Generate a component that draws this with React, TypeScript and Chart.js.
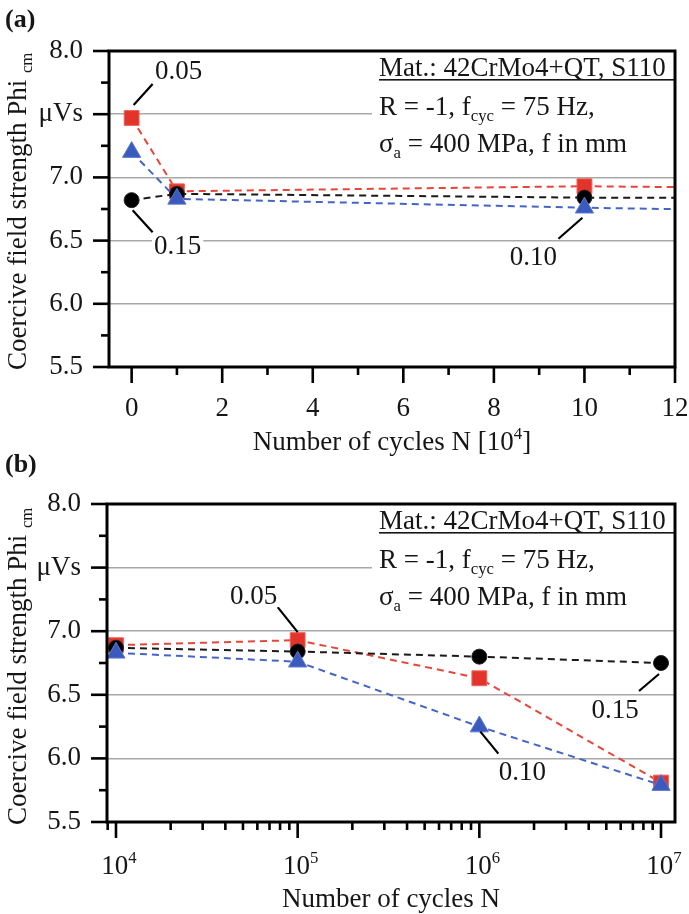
import React, { useEffect, useRef } from 'react';
import { Chart, registerables } from 'chart.js';

Chart.register(...registerables);

// ---------------- data ----------------
const cyclesN = [0, 1e4, 1e5, 1e6, 1e7];
const phi005 = [7.47, 6.89, 6.93, 6.63, 5.81];
const phi010 = [7.2, 6.83, 6.76, 6.25, 5.79];
const phi015 = [6.82, 6.87, 6.84, 6.8, 6.75];
const seriesNames = ['0.05', '0.15', '0.10'];
const yTicks = [5.5, 6.0, 6.5, 7.0, 7.5, 8.0];
const xTicksA = [0, 2, 4, 6, 8, 10, 12];
const xDecadesB = [4, 5, 6, 7];
const unitLabel = 'μVs';
const yTitle = 'Coercive field strength Phi';
const yTitleSub = 'cm';
const xTitleA = 'Number of cycles N [10';
const xTitleAExp = '4';
const xTitleB = 'Number of cycles N';
const annMaterial = 'Mat.: 42CrMo4+QT, S110';

// ---------------- style ----------------
const FONT = '"Liberation Serif", "Times New Roman", Times, serif';
const TEXT = '#161616';
const GRID = '#a8a8a8';
const FS = 27;

type Seg = { t: string; k?: 'sub' | 'sup' };

function fontFor(size: number, k?: string, bold = false) {
  const s = k ? size * 0.62 : size;
  return `${bold ? 'bold ' : ''}${s}px ${FONT}`;
}
function measureRich(ctx: CanvasRenderingContext2D, segs: Seg[], size: number) {
  let w = 0;
  for (const s of segs) {
    ctx.font = fontFor(size, s.k);
    w += ctx.measureText(s.t).width;
  }
  return w;
}
function drawRich(ctx: CanvasRenderingContext2D, segs: Seg[], x: number, y: number, size: number, align: 'left' | 'center' | 'right' = 'left') {
  const w = measureRich(ctx, segs, size);
  let cx = align === 'left' ? x : align === 'center' ? x - w / 2 : x - w;
  ctx.textAlign = 'left';
  ctx.textBaseline = 'alphabetic';
  for (const s of segs) {
    ctx.font = fontFor(size, s.k);
    const dy = s.k === 'sub' ? size * 0.24 : s.k === 'sup' ? -size * 0.4 : 0;
    ctx.fillText(s.t, cx, y + dy);
    cx += ctx.measureText(s.t).width;
  }
  return w;
}

type Label = { ds: number; idx: number; text: string; tx: number; ty: number; l: [number, number, number, number] };

interface Panel {
  key: 'a' | 'b';
  canvasH: number;
  areaTop: number;
  yAxisW: number;
  xAxisH: number;
  xMin: number;
  xMax: number;
  letterY: number;
  labels: Label[];
}

const panelA: Panel = {
  key: 'a',
  canvasH: 460,
  areaTop: 51,
  yAxisW: 109,
  xAxisH: 93,
  xMin: -0.5,
  xMax: 12,
  letterY: 27,
  labels: [
    { ds: 0, idx: 0, text: '0.05', tx: 47, ty: -46, l: [2, -13, 21, -34] },
    { ds: 1, idx: 0, text: '0.15', tx: 46, ty: 47, l: [1, 10, 21, 32] },
    { ds: 2, idx: 2, text: '0.10', tx: -51, ty: 50, l: [-2, 10, -26, 31] },
  ],
};

const panelB: Panel = {
  key: 'b',
  canvasH: 474,
  areaTop: 64,
  yAxisW: 107,
  xAxisH: 92,
  xMin: 8924,
  xMax: 1.194e7,
  letterY: 32,
  labels: [
    { ds: 0, idx: 1, text: '0.05', tx: -44, ty: -43, l: [0, -8, -20, -33] },
    { ds: 1, idx: 3, text: '0.15', tx: -46, ty: 48, l: [-2, 11, -22, 28] },
    { ds: 2, idx: 2, text: '0.10', tx: 43, ty: 46, l: [1, 5, 19, 27] },
  ],
};

function buildConfig(p: Panel): any {
  const isLog = p.key === 'b';
  const pts = (vals: number[]) =>
    cyclesN
      .map((n, i) => ({ x: isLog ? n : n / 1e4, y: vals[i] }))
      .filter((pt) => !isLog || pt.x > 0);

  const common = { borderWidth: 2, borderDash: [7, 5], tension: 0, pointBorderWidth: 1, showLine: true };
  const datasets = [
    {
      ...common,
      label: seriesNames[0],
      data: pts(phi005),
      borderColor: '#e8453a',
      pointBackgroundColor: '#e3342c',
      pointBorderColor: '#f0625a',
      pointStyle: 'rect',
      pointRadius: 10.5,
      order: 2,
    },
    {
      ...common,
      label: seriesNames[1],
      data: pts(phi015),
      borderColor: '#1a1a1a',
      pointBackgroundColor: '#000000',
      pointBorderColor: '#222222',
      pointStyle: 'circle',
      pointRadius: 7.5,
      order: 1,
    },
    {
      ...common,
      label: seriesNames[2],
      data: pts(phi010),
      borderColor: '#4565c6',
      pointBackgroundColor: '#3b5abd',
      pointBorderColor: '#5a76d0',
      pointStyle: 'triangle',
      pointRadius: 10.5,
      order: 0,
    },
  ];

  const tickFont = { family: FONT, size: FS };

  const xScale = {
    type: isLog ? 'logarithmic' : 'linear',
    min: p.xMin,
    max: p.xMax,
    ticks: { display: false },
    grid: { display: false, drawTicks: false },
    border: { display: false },
    afterFit: (s: any) => {
      s.height = p.xAxisH;
    },
  };

  const decor = {
    id: 'decor' + p.key,
    afterDraw(chart: any) {
      const { ctx, chartArea: ca } = chart;
      const xs = chart.scales.x;
      const ys = chart.scales.y;
      ctx.save();

      // annotation block
      const annX = 379;
      ctx.fillStyle = '#ffffff';
      ctx.fillRect(annX - 7, ca.top + 3, ca.right - (annX - 7), 106);
      ctx.fillStyle = TEXT;
      drawRich(ctx, [{ t: annMaterial }], annX, ca.top + 25, FS);
      ctx.fillRect(annX, ca.top + 28, ca.right - annX, 1.6);
      drawRich(ctx, [{ t: 'R = -1, f' }, { t: 'cyc', k: 'sub' }, { t: ' = 75 Hz,' }], annX, ca.top + 64, FS);
      drawRich(ctx, [{ t: 'σ' }, { t: 'a', k: 'sub' }, { t: ' = 400 MPa, f in mm' }], annX, ca.top + 101, FS);

      // data labels with leader lines
      ctx.font = `${FS}px ${FONT}`;
      for (const lb of p.labels) {
        const el = chart.getDatasetMeta(lb.ds).data[lb.idx];
        if (!el) continue;
        const px = el.x;
        const py = el.y;
        ctx.strokeStyle = '#000';
        ctx.lineWidth = 2.2;
        ctx.beginPath();
        ctx.moveTo(px + lb.l[0], py + lb.l[1]);
        ctx.lineTo(px + lb.l[2], py + lb.l[3]);
        ctx.stroke();
        ctx.font = `${FS}px ${FONT}`;
        const w = ctx.measureText(lb.text).width;
        const cx = px + lb.tx;
        const cy = py + lb.ty;
        ctx.fillStyle = '#ffffff';
        ctx.fillRect(cx - w / 2 - 2, cy - 10, w + 4, 20);
        ctx.fillStyle = TEXT;
        ctx.textAlign = 'center';
        ctx.textBaseline = 'middle';
        ctx.fillText(lb.text, cx, cy);
      }

      // ticks
      ctx.strokeStyle = '#000';
      ctx.lineWidth = 2.6;
      const vtick = (x: number, len: number) => {
        ctx.beginPath();
        ctx.moveTo(x, ca.bottom);
        ctx.lineTo(x, ca.bottom + len);
        ctx.stroke();
      };
      const htick = (y: number, len: number) => {
        ctx.beginPath();
        ctx.moveTo(ca.left, y);
        ctx.lineTo(ca.left - len, y);
        ctx.stroke();
      };
      for (let i = 0; i < yTicks.length; i++) {
        htick(ys.getPixelForValue(yTicks[i]), 16);
        if (i < yTicks.length - 1) htick(ys.getPixelForValue((yTicks[i] + yTicks[i + 1]) / 2), 8);
      }
      if (isLog) {
        for (let d = 3; d <= 7; d++) {
          for (let m = 1; m <= 9; m++) {
            const v = m * Math.pow(10, d);
            if (v < p.xMin || v > p.xMax) continue;
            vtick(xs.getPixelForValue(v), m === 1 ? 16 : 8);
          }
        }
      } else {
        for (let i = 0; i < xTicksA.length; i++) {
          vtick(xs.getPixelForValue(xTicksA[i]), 16);
          if (i < xTicksA.length - 1) vtick(xs.getPixelForValue((xTicksA[i] + xTicksA[i + 1]) / 2), 8);
        }
      }

      // frame
      ctx.lineWidth = 3;
      ctx.strokeRect(ca.left, ca.top, ca.right - ca.left, ca.bottom - ca.top);

      ctx.fillStyle = TEXT;
      // x tick labels
      if (isLog) {
        for (const d of xDecadesB) {
          const x = xs.getPixelForValue(Math.pow(10, d));
          drawRich(ctx, [{ t: '10' }, { t: String(d), k: 'sup' }], x + 3, ca.bottom + 52, FS, 'center');
        }
      } else {
        for (const v of xTicksA) {
          drawRich(ctx, [{ t: String(v) }], xs.getPixelForValue(v), ca.bottom + 49, FS, 'center');
        }
      }

      // x title
      const midX = (ca.left + ca.right) / 2;
      if (isLog) {
        drawRich(ctx, [{ t: xTitleB }], midX, ca.bottom + 85, FS, 'center');
      } else {
        drawRich(ctx, [{ t: xTitleA }, { t: xTitleAExp, k: 'sup' }, { t: ']' }], midX, ca.bottom + 83, FS, 'center');
      }

      // y title (rotated)
      ctx.save();
      ctx.translate(26, ca.bottom + 3);
      ctx.rotate(-Math.PI / 2);
      drawRich(ctx, [{ t: yTitle + ' ' }, { t: yTitleSub, k: 'sub' }], 0, 0, FS, 'left');
      ctx.restore();

      // panel letter
      ctx.font = `bold 26px ${FONT}`;
      ctx.textAlign = 'left';
      ctx.textBaseline = 'alphabetic';
      ctx.fillText(`(${p.key})`, 5, p.letterY);

      ctx.restore();
    },
  };

  return {
    type: 'line',
    data: { datasets },
    options: {
      animation: false,
      responsive: false,
      events: [],
      layout: { padding: { top: p.areaTop, right: 14, left: 0, bottom: 0 } },
      plugins: { legend: { display: false }, tooltip: { enabled: false } },
      scales: {
        x: xScale,
        y: {
          type: 'linear',
          min: 5.5,
          max: 8.0,
          afterBuildTicks: (s: any) => {
            s.ticks = yTicks.map((v) => ({ value: v }));
          },
          ticks: {
            font: tickFont,
            color: TEXT,
            padding: 26,
            callback: (v: any) => (Math.abs(Number(v) - 7.5) < 1e-9 ? unitLabel : Number(v).toFixed(1)),
          },
          grid: {
            drawTicks: false,
            lineWidth: 1.5,
            color: (c: any) => {
              const v = c.tick ? c.tick.value : 0;
              return v > 5.6 && v < 7.9 ? GRID : 'rgba(0,0,0,0)';
            },
          },
          border: { display: false },
          afterFit: (s: any) => {
            s.width = p.yAxisW;
          },
        },
      },
    },
    plugins: [decor],
  };
}

export default function App() {
  const refA = useRef<HTMLCanvasElement>(null);
  const refB = useRef<HTMLCanvasElement>(null);
  useEffect(() => {
    const a = new Chart(refA.current as HTMLCanvasElement, buildConfig(panelA));
    const b = new Chart(refB.current as HTMLCanvasElement, buildConfig(panelB));
    return () => {
      a.destroy();
      b.destroy();
    };
  }, []);
  return (
    <div style={{ position: 'absolute', left: 0, top: 0, width: 689, height: 914, background: '#fff', overflow: 'hidden' }}>
      <canvas ref={refA} width={689} height={panelA.canvasH} style={{ position: 'absolute', left: 0, top: 0, width: 689, height: panelA.canvasH }} />
      <canvas ref={refB} width={689} height={panelB.canvasH} style={{ position: 'absolute', left: 0, top: 440, width: 689, height: panelB.canvasH }} />
    </div>
  );
}
